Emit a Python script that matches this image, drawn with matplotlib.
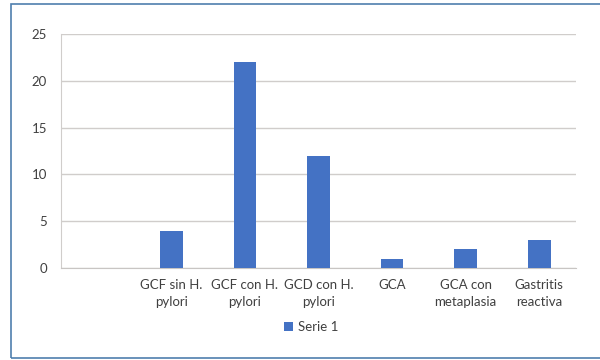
import matplotlib.pyplot as plt
from matplotlib.patches import Rectangle

categorias = ["", "GCF sin H.\npylori", "GCF con H.\npylori", "GCD con H.\npylori",
              "GCA", "GCA con\nmetaplasia", "Gastritis\nreactiva"]
serie_1 = [0, 4, 22, 12, 1, 2, 3]
y_ticks = [0, 5, 10, 15, 20, 25]

plt.rcParams['font.family'] = ['Lato', 'DejaVu Sans']

fig = plt.figure(figsize=(6, 3.6), dpi=100)
ax = fig.add_axes([0.1017, 0.2556, 0.8583, 0.65])

x = range(len(categorias))
ax.bar(x, serie_1, width=0.31, color='#4472C4', label='Serie 1', zorder=3)

ax.set_xlim(-0.5, len(categorias) - 0.5)
ax.set_ylim(0, 25)
ax.set_yticks(y_ticks)
ax.set_xticks(list(x))
ax.set_xticklabels(categorias, linespacing=1.45)
ax.tick_params(axis='both', length=0, labelsize=9.5, colors='#404040')
ax.tick_params(axis='x', pad=8)
ax.tick_params(axis='y', pad=10)

ax.grid(axis='y', color='#d0cdcb', linewidth=1, zorder=0)
for s in ['top', 'right']:
    ax.spines[s].set_visible(False)
ax.spines['left'].set_color('#d0cdcb')
ax.spines['bottom'].set_color('#c8c5c3')

leg = ax.legend(loc='center', bbox_to_anchor=(0.486, -0.252), frameon=False,
                fontsize=9.5, handlelength=0.7, handleheight=0.7, handletextpad=0.4)
for t in leg.get_texts():
    t.set_color('#404040')

# marco exterior del gráfico
fig.patches.append(Rectangle((0.018, 0.006), 1.1, 0.983, transform=fig.transFigure,
                             fill=False, edgecolor='#4f7fae', linewidth=1.2))

fig.savefig('out.png', dpi=100)
